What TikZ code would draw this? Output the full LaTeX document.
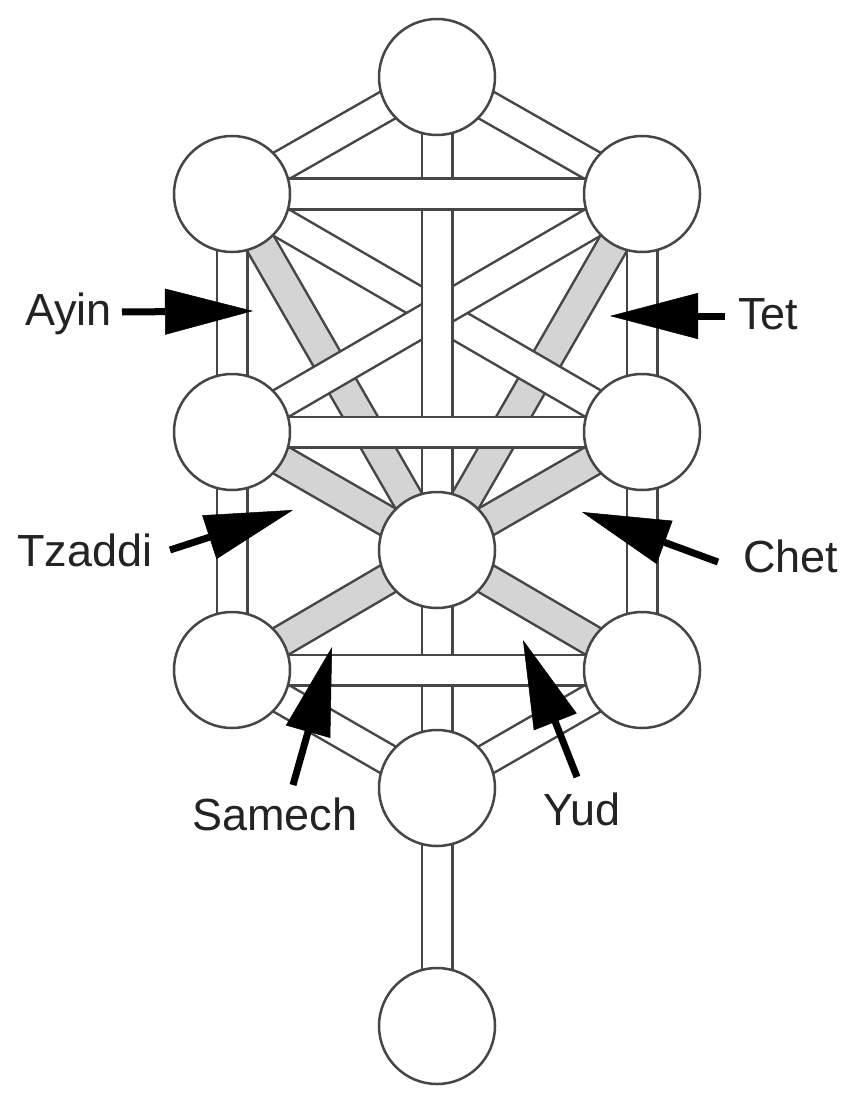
\documentclass[tikz,border=0pt]{standalone}
\usepackage{fontspec}
\setmainfont{Liberation Sans}
\usetikzlibrary{arrows.meta}
\pgfdeclarelayer{bg}
\pgfdeclarelayer{paths}
\pgfsetlayers{bg,paths,main}
\definecolor{edge}{RGB}{70,70,70}
\definecolor{shade}{RGB}{212,212,212}
\definecolor{txt}{RGB}{35,35,35}
\begin{document}
\begin{tikzpicture}[x=1pt,y=-1pt,
  sephira/.style={circle, draw=edge, line width=2.5pt, fill=white, minimum size=116pt, inner sep=0pt},
  band/.style={draw=edge, line width=2.5pt, double=white, double distance=28pt},
  gband/.style={band, double=shade},
  pointer/.style={draw=black, line width=7pt, -{Triangle[length=88pt,width=46pt,line width=0.5pt]}},
  lab/.style={text=txt, font=\fontsize{45pt}{54pt}\selectfont, inner sep=0pt, anchor=base west}]
\useasboundingbox (0,0) rectangle (846,1094);
\begin{pgfonlayer}{bg}
\fill[white] (0,0) rectangle (846,1094);
\end{pgfonlayer}

% sephiroth
\node[sephira] (kether)    at (437,77)  {};
\node[sephira] (binah)     at (232,194) {};
\node[sephira] (chokmah)   at (642,194) {};
\node[sephira] (geburah)   at (232,432) {};
\node[sephira] (chesed)    at (642,432) {};
\node[sephira] (tiphareth) at (437,550) {};
\node[sephira] (hod)       at (232,670) {};
\node[sephira] (netzach)   at (642,670) {};
\node[sephira] (yesod)     at (437,788) {};
\node[sephira] (malkuth)   at (437,1026) {};

\begin{pgfonlayer}{paths}
% shaded paths
\draw[gband] (binah.center) -- (tiphareth.center);
\draw[gband] (chokmah.center) -- (tiphareth.center);
\draw[gband] (geburah.center) -- (tiphareth.center);
\draw[gband] (chesed.center) -- (tiphareth.center);
\draw[gband] (hod.center) -- (tiphareth.center);
\draw[gband] (netzach.center) -- (tiphareth.center);
% white diagonals
\draw[band] (kether.center) -- (binah.center);
\draw[band] (kether.center) -- (chokmah.center);
\draw[band] (binah.center) -- (chesed.center);
\draw[band] (chokmah.center) -- (geburah.center);
\draw[band] (hod.center) -- (yesod.center);
\draw[band] (netzach.center) -- (yesod.center);
% verticals
\draw[band] (binah.center) -- (geburah.center);
\draw[band] (geburah.center) -- (hod.center);
\draw[band] (chokmah.center) -- (chesed.center);
\draw[band] (chesed.center) -- (netzach.center);
\draw[band] (kether.center) -- (tiphareth.center);
\draw[band] (tiphareth.center) -- (yesod.center);
\draw[band] (yesod.center) -- (malkuth.center);
% horizontals
\draw[band] (binah.center) -- (chokmah.center);
\draw[band] (geburah.center) -- (chesed.center);
\draw[band] (hod.center) -- (netzach.center);
\end{pgfonlayer}

% labels
\node[lab] (ayin)   at (25,325)  {Ayin};
\node[lab] (tet)    at (738,329) {Tet};
\node[lab] (tzaddi) at (17,566)  {Tzaddi};
\node[lab] (chet)   at (743,572) {Chet};
\node[lab] (samech) at (192,830) {Samech};
\node[lab] (yud)    at (543,825) {Yud};

% pointer ends
\coordinate (ayinT) at (122,312);   \coordinate (ayinH) at (253,311);
\coordinate (tetT) at (725,316);    \coordinate (tetH) at (610,316);
\coordinate (tzaT) at (170,550);    \coordinate (tzaH) at (293,510);
\coordinate (chetT) at (718,562);   \coordinate (chetH) at (582,512);
\coordinate (samT) at (293,785);    \coordinate (samH) at (332,647);
\coordinate (yudT) at (577,777);    \coordinate (yudH) at (523,640);

\draw[pointer] (ayinT) -- (ayinH);
\draw[pointer] (tetT) -- (tetH);
\draw[pointer] (tzaT) -- (tzaH);
\draw[pointer] (chetT) -- (chetH);
\draw[pointer] (samT) -- (samH);
\draw[pointer] (yudT) -- (yudH);
\end{tikzpicture}
\end{document}
